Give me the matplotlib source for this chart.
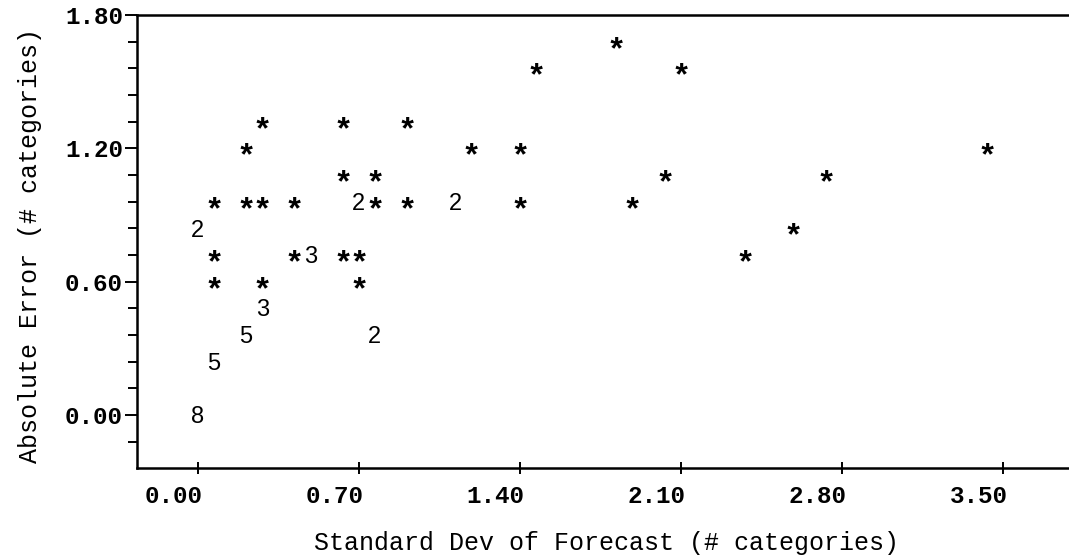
import matplotlib
matplotlib.use('Agg')
import matplotlib.pyplot as plt
import matplotlib.transforms as mtransforms
from matplotlib.ticker import MultipleLocator
from matplotlib.textpath import TextPath
from matplotlib.font_manager import FontProperties

# valeurs (symbole '*' = 1 obs, chiffre = nombre d'obs)
sd_forecast = [1.82, 1.47, 2.10, 0.28, 0.63, 0.91, 0.21, 1.19, 1.40, 3.43,
               0.63, 0.77, 2.03, 2.73, 0.07, 0.21, 0.28, 0.42, 0.70, 0.77,
               0.91, 1.12, 1.40, 1.89, 0.00, 2.59, 0.07, 0.42, 0.49, 0.63,
               0.70, 2.38, 0.07, 0.28, 0.70, 0.28, 0.21, 0.77, 0.07, 0.00]
abs_error = [1.68, 1.56, 1.56, 1.32, 1.32, 1.32, 1.20, 1.20, 1.20, 1.20,
             1.08, 1.08, 1.08, 1.08, 0.96, 0.96, 0.96, 0.96, 0.96, 0.96,
             0.96, 0.96, 0.96, 0.96, 0.84, 0.84, 0.72, 0.72, 0.72, 0.72,
             0.72, 0.72, 0.60, 0.60, 0.60, 0.48, 0.36, 0.36, 0.24, 0.00]
n_obs = [1, 1, 1, 1, 1, 1, 1, 1, 1, 1,
         1, 1, 1, 1, 1, 1, 1, 1, 2, 1,
         1, 2, 1, 1, 2, 1, 1, 1, 3, 1,
         1, 1, 1, 1, 1, 3, 5, 2, 5, 8]

x_ticks = [0.00, 0.70, 1.40, 2.10, 2.80, 3.50]
y_ticks = [0.00, 0.60, 1.20, 1.80]

mono = 'Liberation Mono'
star_font = FontProperties(family=mono, weight='bold', size=23)
digit_font = FontProperties(family='Liberation Sans', size=17)


def ink_center(s, prop):
    # centre vertical du glyphe (en points) pour le centrer sur la ligne
    bb = TextPath((0, 0), s, prop=prop).get_extents()
    return (bb.y0 + bb.y1) / 2


fig = plt.figure(figsize=(10.69, 5.59), dpi=100)
ax = fig.add_axes([0.128, 0.1628, 0.872, 0.8104])
ax.set_xlim(-0.265, 3.787)
ax.set_ylim(-0.2385, 1.80)

for x, y, n in zip(sd_forecast, abs_error, n_obs):
    sym = '*' if n == 1 else str(n)
    prop = star_font if n == 1 else digit_font
    ax.annotate(sym, (x, y), xytext=(0, -ink_center(sym, prop)),
                textcoords='offset points', ha='center', va='baseline',
                fontproperties=prop, color='black')

# axes
ax.spines['right'].set_visible(False)
for side in ['top', 'left', 'bottom']:
    ax.spines[side].set_linewidth(1.8)

ax.set_xticks(x_ticks)
ax.set_xticklabels(['%.2f' % v for v in x_ticks])
ax.set_yticks(y_ticks)
ax.set_yticklabels(['%.2f' % v for v in y_ticks])
ax.yaxis.set_minor_locator(MultipleLocator(0.12))

ax.tick_params(axis='x', direction='inout', length=9, width=1.4, pad=8)
ax.tick_params(axis='y', which='major', direction='out', length=9, width=1.4, pad=1)
ax.tick_params(axis='y', which='minor', direction='out', length=6.5, width=1.4)

for lab in ax.get_xticklabels() + ax.get_yticklabels():
    lab.set_fontfamily(mono)
    lab.set_fontweight('bold')
    lab.set_fontsize(17.5)

# les etiquettes en x sont decalees a gauche du trait comme dans l'original
shift = mtransforms.ScaledTranslation(-0.24, 0, fig.dpi_scale_trans)
for lab in ax.get_xticklabels():
    lab.set_transform(lab.get_transform() + shift)

ax.set_xlabel('Standard Dev of Forecast (# categories)', fontfamily=mono, fontsize=18)
ax.set_ylabel('Absolute Error (# categories)', fontfamily=mono, fontsize=18)
ax.xaxis.set_label_coords(0.504, -0.1656)
ax.xaxis.label.set_va('center')
ax.yaxis.set_label_coords(-0.115, 0.492)
ax.yaxis.label.set_va('center')

fig.savefig('out.png', dpi=100)
